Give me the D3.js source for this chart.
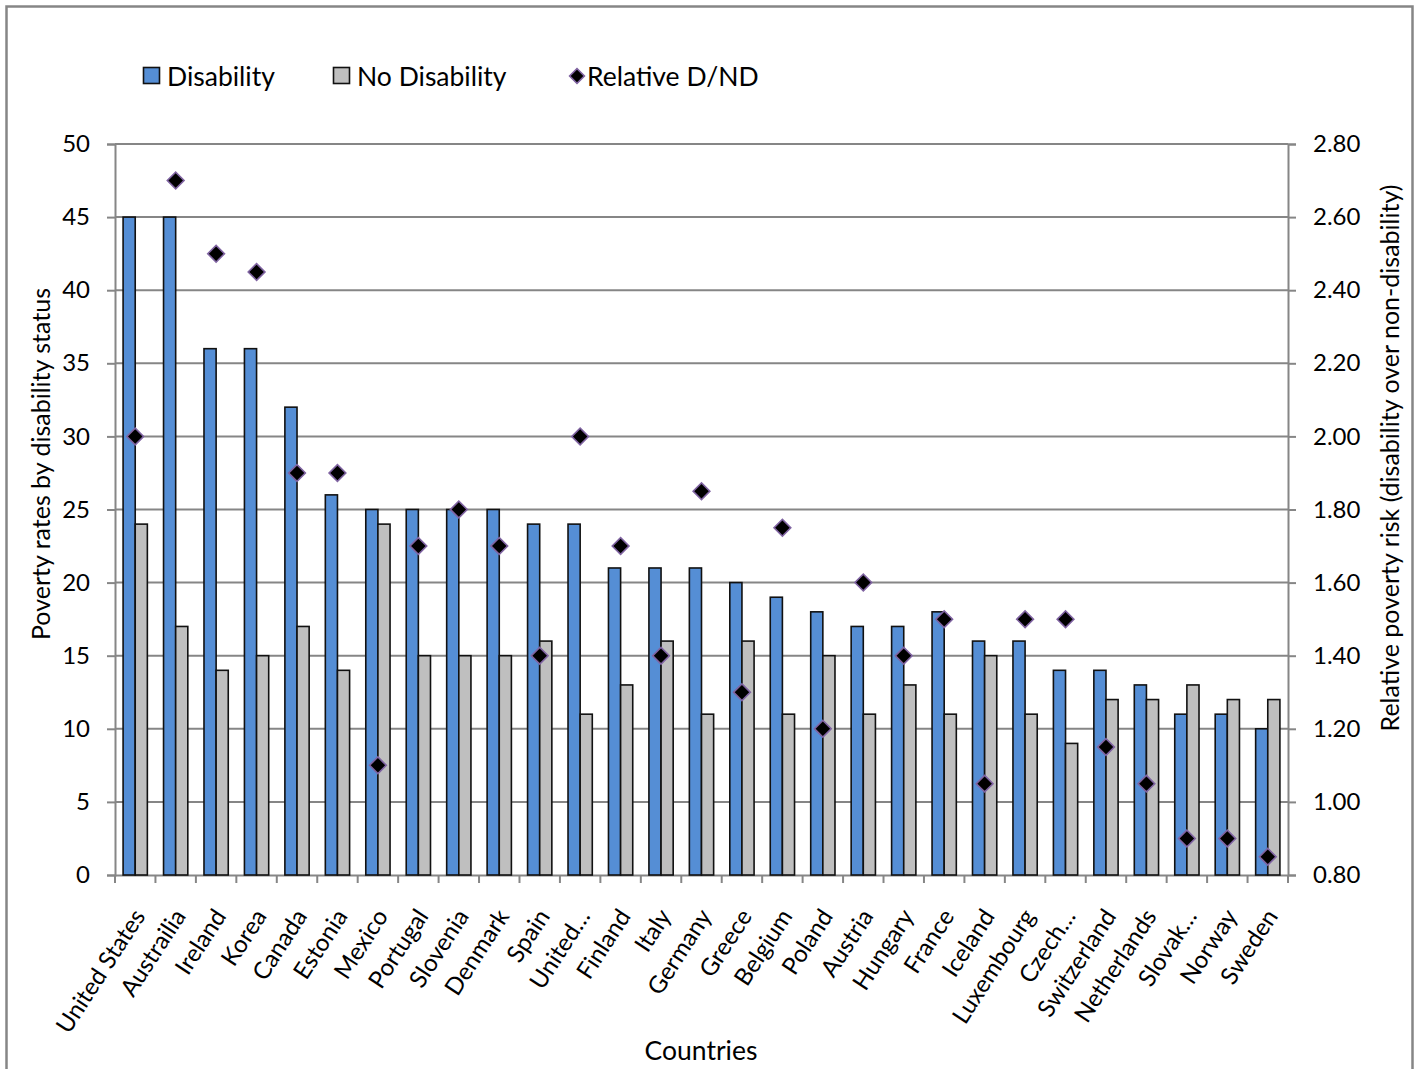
<!DOCTYPE html>
<html>
<head>
<meta charset="utf-8">
<script src="https://cdn.jsdelivr.net/npm/d3@7"></script>
<style>
  html, body { margin: 0; padding: 0; background: #fff; }
  svg { display: block; font-family: Lato, "Open Sans", sans-serif; }
</style>
</head>
<body>
<svg id="chart" width="1417" height="1069"></svg>
<script>
// Poverty rates by disability status, OECD countries
const categories = ["United States", "Austrailia", "Ireland", "Korea", "Canada", "Estonia", "Mexico",
  "Portugal", "Slovenia", "Denmark", "Spain", "United…", "Finland", "Italy", "Germany", "Greece",
  "Belgium", "Poland", "Austria", "Hungary", "France", "Iceland", "Luxembourg", "Czech…",
  "Switzerland", "Netherlands", "Slovak…", "Norway", "Sweden"];
const disability = [45, 45, 36, 36, 32, 26, 25, 25, 25, 25, 24, 24, 21, 21, 21, 20, 19, 18, 17, 17,
  18, 16, 16, 14, 14, 13, 11, 11, 10];
const noDisability = [24, 17, 14, 15, 17, 14, 24, 15, 15, 15, 16, 11, 13, 16, 11, 16, 11, 15, 11, 13,
  11, 15, 11, 9, 12, 12, 13, 12, 12];
const relative = [2.00, 2.70, 2.50, 2.45, 1.90, 1.90, 1.10, 1.70, 1.80, 1.70, 1.40, 2.00, 1.70, 1.40,
  1.85, 1.30, 1.75, 1.20, 1.60, 1.40, 1.50, 1.05, 1.50, 1.50, 1.15, 1.05, 0.90, 0.90, 0.85];
const leftTicks = [0, 5, 10, 15, 20, 25, 30, 35, 40, 45, 50];
const rightTicks = [0.8, 1.0, 1.2, 1.4, 1.6, 1.8, 2.0, 2.2, 2.4, 2.6, 2.8];
const seriesNames = ["Disability", "No Disability", "Relative D/ND"];

const COLORS = { blue: "#558ED5", gray: "#BFBFBF", grid: "#868686", diamond: "#000", diamondEdge: "#8064A2" };
const FONT = 24;        // tick and category labels
const FONT_TITLE = 25;  // axis titles
const FONT_BIG = 26.5;  // legend and x title

const svg = d3.select("#chart");
const plot = { left: 115, right: 1288, top: 144, bottom: 875 };

// Outer chart frame
svg.append("rect")
  .attr("x", 6.5).attr("y", 6.5).attr("width", 1406).attr("height", 1080)
  .attr("fill", "none").attr("stroke", COLORS.grid).attr("stroke-width", 2.5);

const x = d3.scaleBand().domain(categories).range([plot.left, plot.right]).padding(0);
const xs = d3.scaleBand().domain(["d", "n"]).range([0.2 * x.bandwidth(), 0.8 * x.bandwidth()]).padding(0);
const yL = d3.scaleLinear().domain([0, 50]).range([plot.bottom, plot.top]);
const yR = d3.scaleLinear().domain([0.8, 2.8]).range([plot.bottom, plot.top]);

// Horizontal gridlines
svg.append("g").selectAll("line").data(leftTicks.filter(t => t > 0)).join("line")
  .attr("x1", plot.left).attr("x2", plot.right)
  .attr("y1", d => yL(d)).attr("y2", d => yL(d))
  .attr("stroke", COLORS.grid).attr("stroke-width", 2);

// Left axis
const axL = svg.append("g").attr("transform", `translate(${plot.left},0)`)
  .call(d3.axisLeft(yL).tickValues(leftTicks).tickSize(8).tickPadding(17).tickFormat(d3.format("d")));
// Right axis
const axR = svg.append("g").attr("transform", `translate(${plot.right},0)`)
  .call(d3.axisRight(yR).tickValues(rightTicks).tickSize(8).tickPadding(25).tickFormat(d3.format(".2f")));
// Bottom axis
const axB = svg.append("g").attr("transform", `translate(0,${plot.bottom})`)
  .call(d3.axisBottom(x).tickSize(0).tickFormat(""));
// Category boundary ticks
svg.append("g").selectAll("line").data(d3.range(categories.length + 1)).join("line")
  .attr("x1", i => plot.left + i * x.bandwidth()).attr("x2", i => plot.left + i * x.bandwidth())
  .attr("y1", plot.bottom).attr("y2", plot.bottom + 8)
  .attr("stroke", COLORS.grid).attr("stroke-width", 2);

[axL, axR, axB].forEach(a => {
  a.select(".domain").attr("stroke", COLORS.grid).attr("stroke-width", 2);
  a.selectAll(".tick line").attr("stroke", COLORS.grid).attr("stroke-width", 2);
  a.selectAll("text").attr("font-size", FONT).attr("fill", "#000").attr("font-family", "Lato, sans-serif");
});
axR.selectAll("text").attr("x", 25);

// Category labels, rotated
svg.append("g").selectAll("text").data(categories).join("text")
  .attr("transform", d => `translate(${x(d) + x.bandwidth() / 2 + 3},${plot.bottom + 36}) rotate(-57)`)
  .attr("text-anchor", "end").attr("dominant-baseline", "central")
  .attr("font-size", FONT).attr("fill", "#000")
  .text(d => d);

// Bars
const bars = svg.append("g");
bars.selectAll("rect.dis").data(categories).join("rect").attr("class", "dis")
  .attr("x", d => x(d) + xs("d")).attr("width", xs.bandwidth())
  .attr("y", (d, i) => yL(disability[i])).attr("height", (d, i) => yL(0) - yL(disability[i]))
  .attr("fill", COLORS.blue).attr("stroke", "#111").attr("stroke-width", 1.6);
bars.selectAll("rect.nod").data(categories).join("rect").attr("class", "nod")
  .attr("x", d => x(d) + xs("n")).attr("width", xs.bandwidth())
  .attr("y", (d, i) => yL(noDisability[i])).attr("height", (d, i) => yL(0) - yL(noDisability[i]))
  .attr("fill", COLORS.gray).attr("stroke", "#111").attr("stroke-width", 1.6);

// Relative risk markers (right axis)
const diamond = d3.symbol().type(d3.symbolSquare).size(140);
svg.append("g").selectAll("path").data(categories).join("path")
  .attr("transform", (d, i) => `translate(${x(d) + x.bandwidth() / 2},${yR(relative[i])}) rotate(45)`)
  .attr("d", diamond)
  .attr("fill", COLORS.diamond).attr("stroke", COLORS.diamondEdge).attr("stroke-width", 1.6);

// Axis titles
svg.append("text")
  .attr("transform", `translate(40,464) rotate(-90)`)
  .attr("text-anchor", "middle").attr("dominant-baseline", "central")
  .attr("font-size", FONT_TITLE).text("Poverty rates by disability status");
svg.append("text")
  .attr("transform", `translate(1389,458) rotate(-90)`)
  .attr("text-anchor", "middle").attr("dominant-baseline", "central")
  .attr("font-size", FONT_TITLE).text("Relative poverty risk (disability over non-disability)");
svg.append("text")
  .attr("x", 701).attr("y", 1050)
  .attr("text-anchor", "middle").attr("dominant-baseline", "central")
  .attr("font-size", FONT_BIG).text("Countries");

// Legend
const legend = svg.append("g");
const legendX = [143, 333, 569];
const legendTextX = [167, 357, 587];
legend.append("rect").attr("x", legendX[0] + 0.5).attr("y", 67.5).attr("width", 16).attr("height", 16)
  .attr("fill", COLORS.blue).attr("stroke", "#111").attr("stroke-width", 1.6);
legend.append("rect").attr("x", legendX[1] + 0.5).attr("y", 67.5).attr("width", 16).attr("height", 16)
  .attr("fill", COLORS.gray).attr("stroke", "#111").attr("stroke-width", 1.6);
legend.append("path").attr("transform", `translate(${legendX[2] + 8},76) rotate(45)`)
  .attr("d", d3.symbol().type(d3.symbolSquare).size(110))
  .attr("fill", COLORS.diamond).attr("stroke", COLORS.diamondEdge).attr("stroke-width", 1.6);
legend.selectAll("text.lg").data(seriesNames).join("text").attr("class", "lg")
  .attr("x", (d, i) => legendTextX[i]).attr("y", 76)
  .attr("dominant-baseline", "central").attr("font-size", FONT_BIG)
  .text(d => d);
</script>
</body>
</html>
